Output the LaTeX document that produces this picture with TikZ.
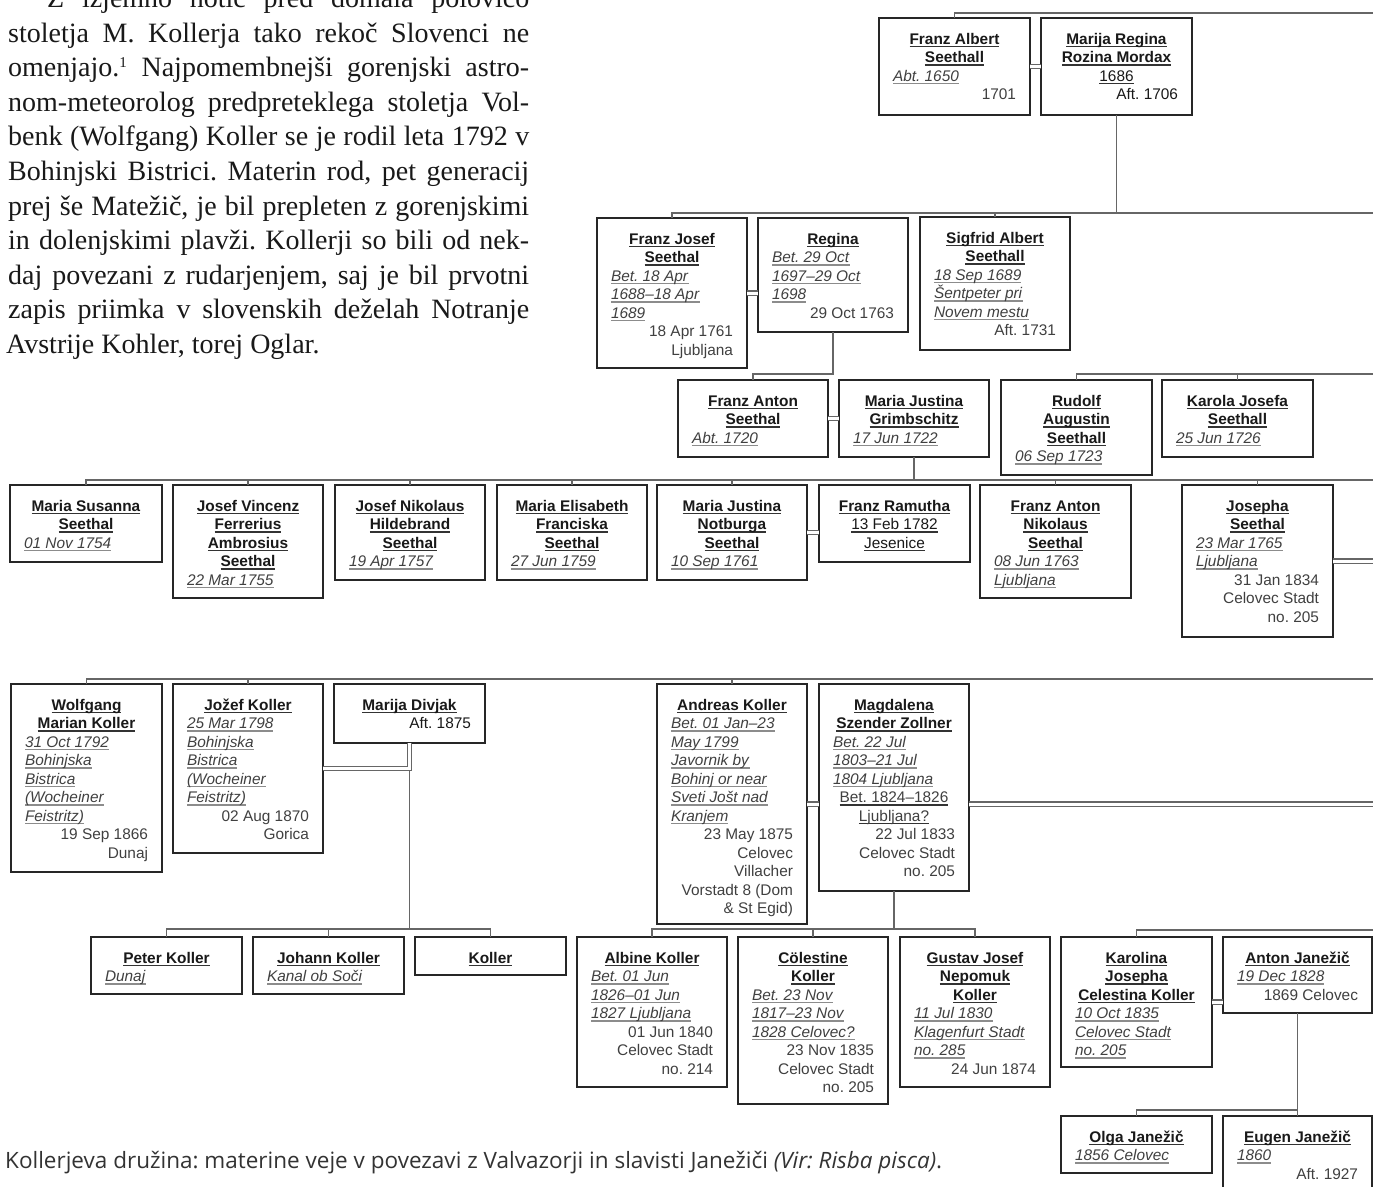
\documentclass[tikz,border=0pt]{standalone}
\usepackage{fontspec}
\setmainfont{Liberation Serif}
\setsansfont{Liberation Sans}
\newfontfamily\capfont{Open Sans}
\usetikzlibrary{shadows}
\frenchspacing

\newcommand\strutx{\vrule height14pt depth4pt width0pt}
\newcommand\ulx[2]{\setbox0=\hbox{#2}\rlap{\color{#1}\vrule width\wd0 height-1.7pt depth3.0pt}\box0}
\newcommand\Nm[1]{\hbox to\hsize{\hss\strutx\ulx{black!80}{\textbf{#1}}\hss}}
\newcommand\Cu[1]{\hbox to\hsize{\hss\strutx\ulx{black!80}{#1}\hss}}
\newcommand\It[1]{\hbox to\hsize{\strutx\ulx{black!45}{\color{black!75}\textit{#1}}\hss}}
\newcommand\Rt[1]{\hbox to\hsize{\hss\strutx #1}}

\tikzset{
  box/.style={draw=black!85, line width=1.4pt, fill=white, inner sep=0pt, outer sep=0pt,
    drop shadow={shadow xshift=1.2pt, shadow yshift=-1.2pt, fill=black!55, opacity=1}},
  txt/.style={inner sep=0pt, font=\fontsize{15.4}{18.5}\selectfont\sffamily, text=black!90},
  conn/.style={draw=black!60, line width=1.3pt},
  dbl/.style={draw=black!60, line width=1.1pt, double=white, double distance=3pt},
  partext/.style={anchor=base west, inner sep=0pt, font=\fontsize{28}{33}\selectfont\rmfamily, text=black!90}
}

\newcommand\famBox[6]{%
  \node[box, minimum width=#4pt, minimum height=#5pt, anchor=north west] (#1) at (#2,#3) {};
  \pgfmathsetmacro\tw{#4-28}%
  \node[txt, anchor=north] at ([yshift=-12pt]#1.north) {\vbox{\hsize=\tw pt #6}};%
}

\begin{document}
\begin{tikzpicture}[x=1pt,y=-1pt]
\useasboundingbox (0,0) rectangle (1373,1186);
\clip (0,0) rectangle (1373,1186);
\fill[white] (0,0) rectangle (1373,1186);

% paragraph
\node[partext] (p1) at (47,7.5) {\makebox[482pt][s]{Z izjemno notic pred domala polovico}};
\node[partext] (p2) at (8,42.1) {\makebox[521pt][s]{stoletja M. Kollerja tako rekoč Slovenci ne}};
\node[partext] (p3) at (8,76.7) {\makebox[521pt][s]{omenjajo.\textsuperscript{\fontsize{15}{15}\selectfont 1} Najpomembnejši gorenjski astro-}};
\node[partext] (p4) at (8,111.3) {\makebox[521pt][s]{nom-meteorolog predpreteklega stoletja Vol-}};
\node[partext] (p5) at (8,145.9) {\makebox[521pt][s]{benk (Wolfgang) Koller se je rodil leta 1792 v}};
\node[partext] (p6) at (8,180.5) {\makebox[521pt][s]{Bohinjski Bistrici. Materin rod, pet generacij}};
\node[partext] (p7) at (8,215.1) {\makebox[521pt][s]{prej še Matežič, je bil prepleten z gorenjskimi}};
\node[partext] (p8) at (8,249.7) {\makebox[521pt][s]{in dolenjskimi plavži. Kollerji so bili od nek-}};
\node[partext] (p9) at (8,284.3) {\makebox[521pt][s]{daj povezani z rudarjenjem, saj je bil prvotni}};
\node[partext] (p10) at (8,318.9) {\makebox[521pt][s]{zapis priimka v slovenskih deželah Notranje}};
\node[partext] (p11) at (6,353.5) {Avstrije Kohler, torej Oglar.};

\coordinate (RE) at (1373,0);

% generation A
\famBox{a1}{879}{18}{151}{97}{\Nm{Franz Albert}\Nm{Seethall}\It{Abt. 1650}\Rt{1701}}
\famBox{a2}{1041}{18}{151}{97}{\Nm{Marija Regina}\Nm{Rozina Mordax}\Cu{1686}\Rt{Aft. 1706}}

% generation B
\famBox{b1}{597}{218}{150}{150}{\Nm{Franz Josef}\Nm{Seethal}\It{Bet. 18 Apr}\It{1688–18 Apr}\It{1689}\Rt{18 Apr 1761}\Rt{Ljubljana}}
\famBox{b2}{758}{218}{150}{114}{\Nm{Regina}\It{Bet. 29 Oct}\It{1697–29 Oct}\It{1698}\Rt{29 Oct 1763}}
\famBox{b3}{920}{217}{150}{133}{\Nm{Sigfrid Albert}\Nm{Seethall}\It{18 Sep 1689}\It{Šentpeter pri}\It{Novem mestu}\Rt{Aft. 1731}}

% generation C
\famBox{c1}{678}{380}{150}{77}{\Nm{Franz Anton}\Nm{Seethal}\It{Abt. 1720}}
\famBox{c2}{839}{380}{150}{77}{\Nm{Maria Justina}\Nm{Grimbschitz}\It{17 Jun 1722}}
\famBox{c3}{1001}{380}{151}{95}{\Nm{Rudolf}\Nm{Augustin}\Nm{Seethall}\It{06 Sep 1723}}
\famBox{c4}{1162}{380}{151}{77}{\Nm{Karola Josefa}\Nm{Seethall}\It{25 Jun 1726}}

% generation D
\famBox{d1}{10}{485}{152}{77}{\Nm{Maria Susanna}\Nm{Seethal}\It{01 Nov 1754}}
\famBox{d2}{173}{485}{150}{113}{\Nm{Josef Vincenz}\Nm{Ferrerius}\Nm{Ambrosius}\Nm{Seethal}\It{22 Mar 1755}}
\famBox{d3}{335}{485}{150}{95}{\Nm{Josef Nikolaus}\Nm{Hildebrand}\Nm{Seethal}\It{19 Apr 1757}}
\famBox{d4}{497}{485}{150}{95}{\Nm{Maria Elisabeth}\Nm{Franciska}\Nm{Seethal}\It{27 Jun 1759}}
\famBox{d5}{657}{485}{150}{95}{\Nm{Maria Justina}\Nm{Notburga}\Nm{Seethal}\It{10 Sep 1761}}
\famBox{d6}{819}{485}{151}{77}{\Nm{Franz Ramutha}\Cu{13 Feb 1782}\Cu{Jesenice}}
\famBox{d7}{980}{485}{151}{113}{\Nm{Franz Anton}\Nm{Nikolaus}\Nm{Seethal}\It{08 Jun 1763}\It{Ljubljana}}
\famBox{d8}{1182}{485}{151}{152}{\Nm{Josepha}\Nm{Seethal}\It{23 Mar 1765}\It{Ljubljana}\Rt{31 Jan 1834}\Rt{Celovec Stadt}\Rt{no. 205}}

% generation E
\famBox{e1}{11}{684}{151}{188}{\Nm{Wolfgang}\Nm{Marian Koller}\It{31 Oct 1792}\It{Bohinjska}\It{Bistrica}\It{(Wocheiner}\It{Feistritz)}\Rt{19 Sep 1866}\Rt{Dunaj}}
\famBox{e2}{173}{684}{150}{169}{\Nm{Jožef Koller}\It{25 Mar 1798}\It{Bohinjska}\It{Bistrica}\It{(Wocheiner}\It{Feistritz)}\Rt{02 Aug 1870}\Rt{Gorica}}
\famBox{e3}{334}{684}{151}{59}{\Nm{Marija Divjak}\Rt{Aft. 1875}}
\famBox{e4}{657}{684}{150}{240}{\Nm{Andreas Koller}\It{Bet. 01 Jan–23}\It{May 1799}\It{Javornik by}\It{Bohinj or near}\It{Sveti Jošt nad}\It{Kranjem}\Rt{23 May 1875}\Rt{Celovec}\Rt{Villacher}\Rt{Vorstadt 8 (Dom}\Rt{\& St Egid)}}
\famBox{e5}{819}{684}{150}{207}{\Nm{Magdalena}\Nm{Szender Zollner}\It{Bet. 22 Jul}\It{1803–21 Jul}\It{1804 Ljubljana}\Cu{Bet. 1824–1826}\Cu{Ljubljana?}\Rt{22 Jul 1833}\Rt{Celovec Stadt}\Rt{no. 205}}

% generation F
\famBox{f1}{91}{937}{151}{57}{\Nm{Peter Koller}\It{Dunaj}}
\famBox{f2}{253}{937}{151}{57}{\Nm{Johann Koller}\It{Kanal ob Soči}}
\famBox{f3}{415}{937}{151}{38}{\Nm{Koller}}
\famBox{f4}{577}{937}{150}{150}{\Nm{Albine Koller}\It{Bet. 01 Jun}\It{1826–01 Jun}\It{1827 Ljubljana}\Rt{01 Jun 1840}\Rt{Celovec Stadt}\Rt{no. 214}}
\famBox{f5}{738}{937}{150}{167}{\Nm{Cölestine}\Nm{Koller}\It{Bet. 23 Nov}\It{1817–23 Nov}\It{1828 Celovec?}\Rt{23 Nov 1835}\Rt{Celovec Stadt}\Rt{no. 205}}
\famBox{f6}{900}{937}{150}{150}{\Nm{Gustav Josef}\Nm{Nepomuk}\Nm{Koller}\It{11 Jul 1830}\It{Klagenfurt Stadt}\It{no. 285}\Rt{24 Jun 1874}}
\famBox{f7}{1061}{937}{151}{130}{\Nm{Karolina}\Nm{Josepha}\Nm{Celestina Koller}\It{10 Oct 1835}\It{Celovec Stadt}\It{no. 205}}
\famBox{f8}{1223}{937}{149}{76}{\Nm{Anton Janežič}\It{19 Dec 1828}\Rt{1869 Celovec}}

% generation G
\famBox{g1}{1061}{1116}{151}{57}{\Nm{Olga Janežič}\It{1856 Celovec}}
\famBox{g2}{1223}{1116}{149}{80}{\Nm{Eugen Janežič}\It{1860}\Rt{Aft. 1927}}

% connectors A
\coordinate (t0) at (1373,13);
\draw[conn] (a1.north) |- (t0);
\draw[dbl] (a1.east) -- (a2.west);

% connectors B
\coordinate (t1) at (1373,213);
\draw[conn] (b1.north) |- (t1);
\draw[conn] (b3.north) -- (b3.north |- t1);
\draw[conn] (a2.south) -- (a2.south |- t1);
\draw[dbl] (b1.east) -- (b1.east -| b2.west);

% connectors C
\coordinate (yC) at (0,374);
\draw[conn] (b2.south) |- (c1.north |- yC) -- (c1.north);
\coordinate (t2) at (1373,374);
\draw[conn] (c3.north) |- (t2);
\draw[conn] (c4.north) -- (c4.north |- t2);
\draw[dbl] (c1.east) -- (c2.west);

% connectors D
\coordinate (t3) at (1373,480);
\draw[conn] (d1.north) |- (t3);
\foreach \n in {d2,d3,d4,d5,d7,d8} {\draw[conn] (\n.north) -- (\n.north |- t3);}
\draw[conn] (c2.south) -- (c2.south |- t3);
\draw[dbl] (d5.east) -- (d5.east -| d6.west);
\draw[dbl] (d8.east) -- (d8.east -| RE);

% connectors E
\coordinate (t4) at (1373,679);
\draw[conn] (e1.north) |- (t4);
\draw[conn] (e2.north) -- (e2.north |- t4);
\draw[conn] (e4.north) -- (e4.north |- t4);
\draw[dbl] (e2.east) -| (e3.south);
\draw[dbl] (e4.east) -- (e4.east -| e5.west);
\draw[dbl] (e4.east -| e5.east) -- (e4.east -| RE);

% connectors F
\coordinate (yF) at (0,929);
\path (e2.east) ++(0,2.5) coordinate (dj);
\draw[conn] (dj -| e3.south) -- (e3.south |- yF);
\draw[conn] (f1.north) |- (f3.north |- yF) -- (f3.north);
\draw[conn] (f2.north) -- (f2.north |- yF);
\draw[conn] (e5.south) -- (e5.south |- yF);
\draw[conn] (f4.north) |- (f6.north |- yF) -- (f6.north);
\draw[conn] (f5.north) -- (f5.north |- yF);
\coordinate (t5) at (1373,930);
\draw[conn] (f7.north) |- (t5);
\draw[dbl] (f7.east) -- (f7.east -| f8.west);

% connectors G
\coordinate (yG) at (0,1110);
\draw[conn] (f8.south) -- (g2.north);
\draw[conn] (g1.north) |- (g2.north |- yG);

% caption
\node[anchor=base west, inner sep=0pt, font=\capfont\fontsize{22.5}{26}\selectfont, text=black!80] (cap) at (5,1168) {\makebox[937pt][s]{Kollerjeva družina: materine veje v povezavi z Valvazorji in slavisti Janežiči \textit{(Vir: Risba pisca)}.}};
\end{tikzpicture}
\end{document}
